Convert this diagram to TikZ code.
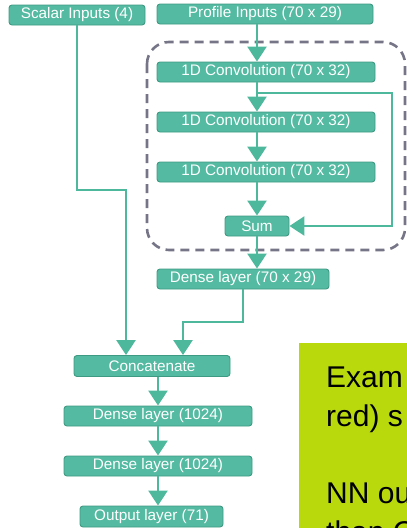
\documentclass[tikz,border=0pt]{standalone}
\usepackage{fontspec}
\setmainfont{Liberation Sans}
\usetikzlibrary{arrows.meta}

\definecolor{boxfill}{RGB}{84,186,161}
\definecolor{boxedge}{RGB}{62,154,131}
\definecolor{linecol}{RGB}{78,184,157}
\definecolor{dashcol}{RGB}{118,117,136}
\definecolor{panelcol}{RGB}{185,217,12}

\begin{document}
\begin{tikzpicture}[x=1pt,y=-1pt,
  layer/.style={draw=boxedge, fill=boxfill, rounded corners=3pt, line width=0.9pt,
    minimum height=20pt, inner sep=0pt, text=white,
    font=\fontsize{15.3}{17}\selectfont},
  wire/.style={draw=linecol, line width=2.6pt},
  flow/.style={wire, -{Triangle[width=19pt,length=15pt]}},
  dashbox/.style={draw=dashcol, line width=2.6pt, dash pattern=on 9pt off 6pt,
    rounded corners=22pt},
  note/.style={anchor=base west, inner sep=0pt, text=black,
    font=\fontsize{30}{36}\selectfont}]

\useasboundingbox (0,0) rectangle (407,528);
\clip (0,0) rectangle (407,528);

% residual block frame
\draw[dashbox] (147,42) rectangle (405,250);

% layers
\node[layer, minimum width=136pt] (scalar) at (77,15)  {Scalar Inputs (4)};
\node[layer, minimum width=216pt] (prof)   at (265,14) {Profile Inputs (70 x 29)};
\node[layer, minimum width=218pt] (c1)     at (266,72) {1D Convolution (70 x 32)};
\node[layer, minimum width=218pt] (c2)     at (266,122) {1D Convolution (70 x 32)};
\node[layer, minimum width=218pt] (c3)     at (266,172) {1D Convolution (70 x 32)};
\node[layer, minimum width=64pt]  (sum)    at (257,226) {Sum};
\node[layer, minimum width=172pt] (dense)  at (243,279) {Dense layer (70 x 29)};
\node[layer, minimum width=156pt, minimum height=21pt] (concat) at (152,366) {Concatenate};
\node[layer, minimum width=188pt] (d1)     at (158,416) {Dense layer (1024)};
\node[layer, minimum width=188pt] (d2)     at (158,466) {Dense layer (1024)};
\node[layer, minimum width=143pt, minimum height=21pt] (out) at (151.5,516.5) {Output layer (71)};

% bend points
\coordinate (s1) at (77,190);
\coordinate (s2) at (126,190);
\coordinate (b1) at (257,93);
\coordinate (b2) at (392,93);
\coordinate (b3) at (392,226);
\coordinate (k1) at (243,322);
\coordinate (k2) at (183,322);

% connectors
\draw[flow] (prof.south -| sum) -- (c1.north -| sum);
\draw[flow] (c1.south -| sum) -- (c2.north -| sum);
\draw[flow] (c2.south -| sum) -- (c3.north -| sum);
\draw[flow] (c3.south -| sum) -- (sum.north);
\draw[flow] (sum.south) -- (dense.north -| sum);
\draw[flow] (b1) -- (b2) -- (b3) -- (sum.east);
\draw[flow] (scalar.south -| s1) -- (s1) -- (s2) -- (concat.north -| s2);
\draw[flow] (dense.south -| k1) -- (k1) -- (k2) -- (concat.north -| k2);
\draw[flow] (concat.south -| d1) -- (d1.north);
\draw[flow] (d1.south) -- (d2.north);
\draw[flow] (d2.south) -- (out.north -| d2);

% side panel
\fill[panelcol] (299,343) rectangle (407,528);
\node[note] (t1) at (326,387) {Exam};
\node[note] (t2) at (326,426) {red) s};
\node[note] (t3) at (326,503) {NN ou};
\node[note] (t4) at (326,542) {than C};
\end{tikzpicture}
\end{document}
